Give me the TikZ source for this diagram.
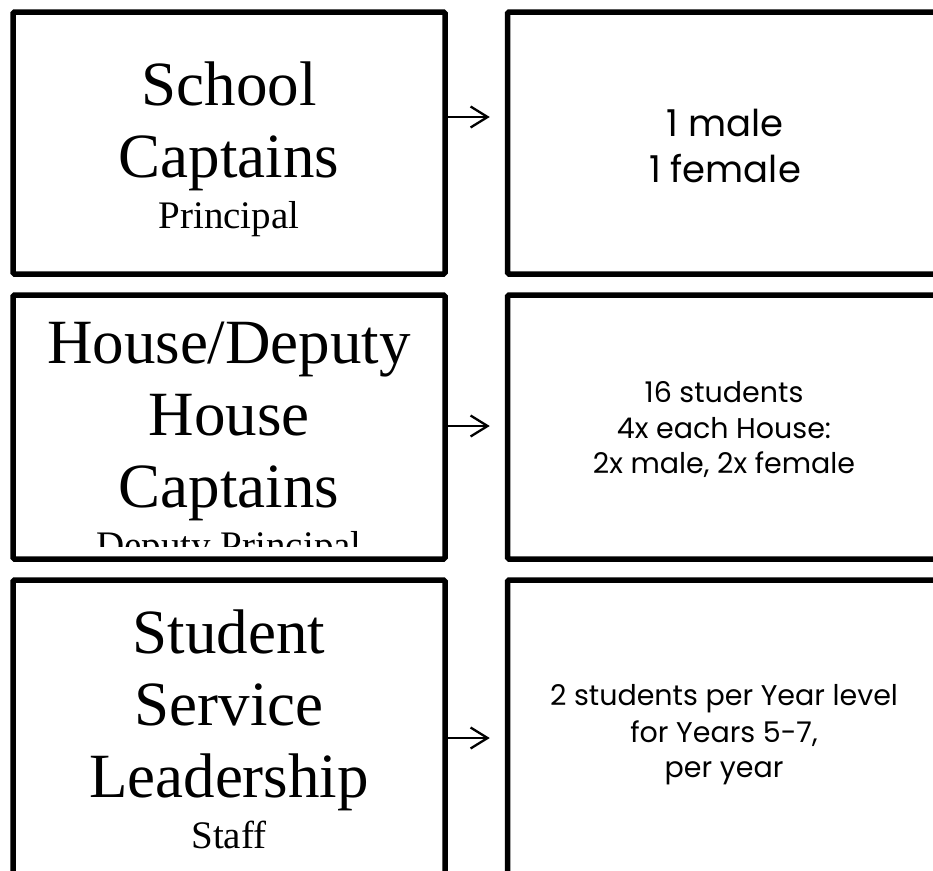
\documentclass[tikz,border=0pt]{standalone}
\usepackage{fontspec}
\setmainfont{Liberation Serif}
\newfontfamily\gothic{Poppins}
\usetikzlibrary{arrows.meta}
\begin{document}
\begin{tikzpicture}[x=1pt,y=-1pt,
  box/.style={draw=black, line width=5.5pt, fill=white, inner sep=0pt, rounded corners=1.5pt},
  title/.style={anchor=base, inner sep=0pt, font=\fontsize{63}{72}\selectfont},
  sub/.style={anchor=base, inner sep=0pt, font=\fontsize{39}{45}\selectfont},
  info/.style={anchor=base, inner sep=0pt, font=\gothic\fontsize{28.5}{34}\selectfont},
  infobig/.style={anchor=base, inner sep=0pt, font=\gothic\fontsize{37}{44}\selectfont},
  arr/.style={-{Straight Barb[length=17pt,width=21pt]}, line width=2.3pt, shorten >=15pt}]
\useasboundingbox (0,0) rectangle (933,870);
\clip (0,0) rectangle (933,870);
% boxes
\node[box, minimum width=432pt, minimum height=262pt] (b1) at (229,143) {};
\node[box, minimum width=432pt, minimum height=264pt] (b2) at (229,427) {};
\node[box, minimum width=432pt, minimum height=316pt] (b3) at (229,738) {};
\node[box, minimum width=432pt, minimum height=262pt] (r1) at (723.5,143) {};
\node[box, minimum width=432pt, minimum height=264pt] (r2) at (723.5,427) {};
\node[box, minimum width=432pt, minimum height=316pt] (r3) at (723.5,738) {};
% left texts
\node[title] (s1) at (229,105) {School};
\node[title] (s2) at (229,177) {Captains};
\node[sub]   (s3) at (229,228) {Principal};
\begin{scope}
\clip (16,298) rectangle (442,546);
\node[title] (h1) at (229,363) {House/Deputy};
\node[title] (h2) at (229,435) {House};
\node[title] (h3) at (229,507) {Captains};
\node[sub]   (h4) at (229,558) {Deputy Principal};
\end{scope}
\node[title] (l1) at (229,653) {Student};
\node[title] (l2) at (229,725) {Service};
\node[title] (l3) at (229,797) {Leadership};
\node[sub]   (l4) at (229,848) {Staff};
% right texts
\node[infobig] (m1) at (725,136) {1 male};
\node[infobig] (m2) at (725,182) {1 female};
\node[info] (n1) at (724,402) {16 students};
\node[info] (n2) at (724,438) {4x each House:};
\node[info] (n3) at (724,473) {2x male, 2x female};
\node[info] (p1) at (724,705) {2 students per Year level};
\node[info] (p2) at (724,742) {for Years 5-7,};
\node[info] (p3) at (724,777) {per year};
% arrows
\coordinate (a1) at (0,117);
\coordinate (a2) at (0,426);
\coordinate (a3) at (0,738);
\draw[arr] (b1.east |- a1) -- (r1.west |- a1);
\draw[arr] (b2.east |- a2) -- (r2.west |- a2);
\draw[arr] (b3.east |- a3) -- (r3.west |- a3);
\end{tikzpicture}
\end{document}
